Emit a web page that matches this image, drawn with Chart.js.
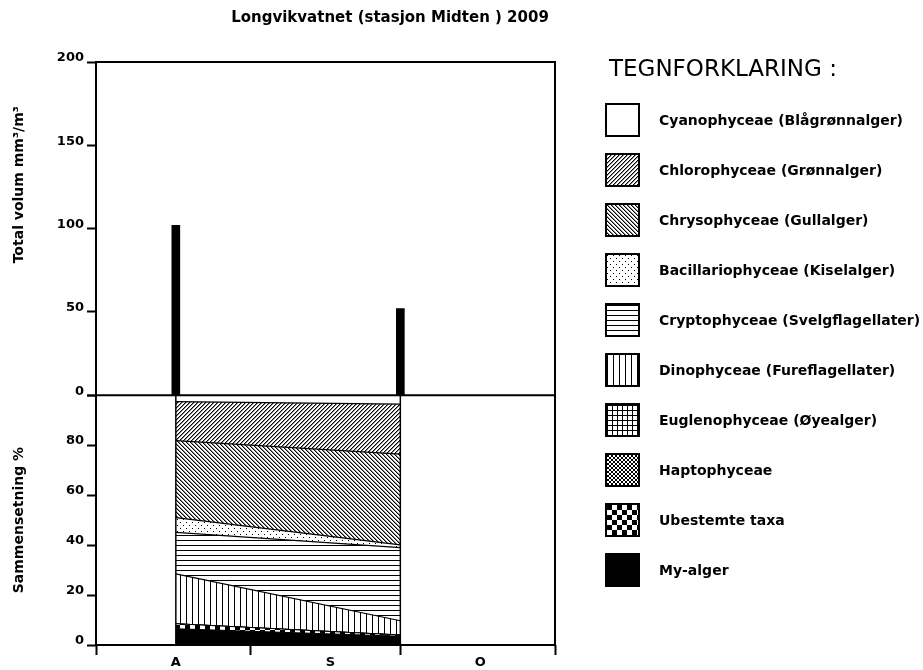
<!DOCTYPE html>
<html>
<head>
<meta charset="utf-8">
<script src="https://cdn.jsdelivr.net/npm/chart.js@4.4.1/dist/chart.umd.min.js"></script>
<style>
  html, body { margin: 0; padding: 0; background: #fff; }
  #wrap { position: relative; width: 923px; height: 670px; font-family: "DejaVu Sans", sans-serif; color: #000; }
  #chart { position: absolute; left: 0; top: 0; }
  #title { position: absolute; left: 0; top: 9px; width: 780px; text-align: center; font-weight: bold; font-size: 15px; line-height: 17px; }
  #legend-head { position: absolute; left: 609px; top: 55px; font-size: 23px; line-height: 27px; }
  #legend { position: absolute; left: 605px; top: 103px; }
  .row { display: flex; align-items: center; height: 34px; margin-bottom: 16px; }
  .row canvas { border: 2px solid #000; display: block; }
  .row span { margin-left: 19px; font-weight: bold; font-size: 14px; white-space: nowrap; }
</style>
</head>
<body>
<div id="wrap">
  <canvas id="chart" width="923" height="670"></canvas>
  <div id="title">Longvikvatnet (stasjon Midten ) 2009</div>
  <div id="legend-head">TEGNFORKLARING :</div>
  <div id="legend"></div>
</div>
<script>
// sampling dates, counted in days after 1 August
const sampleDays = [16, 61];
const totalVolume = [102, 52];

// composition in % (bottom of the stack first)
const myAlger = [6.5, 3.5];
const ubestemte = [2.0, 0.5];
const haptophyceae = [0, 0];
const euglenophyceae = [0, 0];
const dinophyceae = [20.0, 5.7];
const cryptophyceae = [16.6, 29.3];
const bacillariophyceae = [5.9, 1.1];
const chrysophyceae = [30.8, 36.3];
const chlorophyceae = [15.6, 20.0];
const cyanophyceae = [2.6, 3.6];

const monthStarts = [0, 31, 61, 92];
const monthMids = [16, 47, 77];
const monthLabels = ['A', 'S', 'O'];
const volumeTicks = [0, 50, 100, 150, 200];
const percentTicks = [0, 20, 40, 60, 80, 100];

const legendLabels = [
  'Cyanophyceae (Blågrønnalger)',
  'Chlorophyceae (Grønnalger)',
  'Chrysophyceae (Gullalger)',
  'Bacillariophyceae (Kiselalger)',
  'Cryptophyceae (Svelgflagellater)',
  'Dinophyceae (Fureflagellater)',
  'Euglenophyceae (Øyealger)',
  'Haptophyceae',
  'Ubestemte taxa',
  'My-alger'
];

// --- fill patterns ---
function tile(w, h, draw) {
  const c = document.createElement('canvas');
  c.width = w; c.height = h;
  const g = c.getContext('2d');
  g.fillStyle = '#fff';
  g.fillRect(0, 0, w, h);
  g.fillStyle = '#000';
  draw(g, w, h);
  return c;
}

// diagonal hatch, dir 1 = "/", dir -1 = "\"
function hatch(g, n, dir) {
  for (let i = 0; i < n; i++) {
    const y = dir > 0 ? n - 1 - i : i;
    g.fillStyle = '#000';
    g.fillRect(i, y, 1, 1);
    g.fillStyle = '#8a8a8a';
    g.fillRect((i + 1) % n, y, 1, 1);
  }
}

const tiles = {
  cyano: tile(4, 4, () => {}),
  chloro: tile(4, 4, g => hatch(g, 4, 1)),
  chryso: tile(4, 4, g => hatch(g, 4, -1)),
  bacill: tile(6, 6, g => { g.fillRect(0, 0, 1, 1); g.fillRect(3, 3, 1, 1); }),
  crypto: tile(4, 5, g => { g.fillRect(0, 0, 4, 1); }),
  dino: tile(6, 4, g => { g.fillRect(0, 0, 1, 4); }),
  eugleno: tile(5, 5, g => { g.fillRect(0, 0, 5, 1); g.fillRect(0, 0, 1, 5); }),
  hapto: tile(4, 4, g => { g.fillRect(0, 0, 2, 2); g.fillRect(2, 2, 2, 2); }),
  ubest: tile(10, 10, g => { g.fillRect(0, 0, 5, 5); g.fillRect(5, 5, 5, 5); }),
  my: tile(4, 4, (g, w, h) => { g.fillRect(0, 0, w, h); })
};

function pat(t) {
  return t.getContext('2d').createPattern(t, 'repeat');
}

const legendTiles = [tiles.cyano, tiles.chloro, tiles.chryso, tiles.bacill, tiles.crypto,
  tiles.dino, tiles.eugleno, tiles.hapto, tiles.ubest, tiles.my];

// HTML legend
const legendEl = document.getElementById('legend');
legendLabels.forEach((label, i) => {
  const row = document.createElement('div');
  row.className = 'row';
  const box = document.createElement('canvas');
  box.width = 31; box.height = 30;
  const bctx = box.getContext('2d');
  bctx.fillStyle = bctx.createPattern(legendTiles[i], 'repeat');
  bctx.fillRect(0, 0, 31, 30);
  const span = document.createElement('span');
  span.textContent = label;
  row.appendChild(box);
  row.appendChild(span);
  legendEl.appendChild(row);
});

function series(values) {
  return sampleDays.map((d, i) => ({ x: d, y: values[i] }));
}

function areaSet(label, values, fillStyle, fill) {
  return {
    label: label,
    data: series(values),
    yAxisID: 'yBottom',
    stack: 'comp',
    backgroundColor: fillStyle,
    borderColor: '#000',
    borderWidth: 1.2,
    pointRadius: 0,
    tension: 0,
    fill: fill
  };
}

const tickFont = { family: '"DejaVu Sans", sans-serif', size: 13, weight: 'bold' };
const titleFont = { family: '"DejaVu Sans", sans-serif', size: 14, weight: 'bold' };

const framePlugin = {
  id: 'frame',
  afterDatasetsDraw(chart) {
    const { ctx, chartArea: a, scales } = chart;
    const x = scales.x, yTop = scales.yTop, yBottom = scales.yBottom;
    ctx.save();
    ctx.strokeStyle = '#000';
    // left and right edge of the composition area
    ctx.lineWidth = 1.5;
    [sampleDays[0], sampleDays[sampleDays.length - 1]].forEach(d => {
      const px = x.getPixelForValue(d);
      ctx.beginPath();
      ctx.moveTo(px, yBottom.getPixelForValue(0));
      ctx.lineTo(px, yBottom.getPixelForValue(100));
      ctx.stroke();
    });
    ctx.lineWidth = 2;
    ctx.strokeRect(a.left, a.top, a.right - a.left, a.bottom - a.top);
    const y0 = yTop.getPixelForValue(0);
    ctx.beginPath();
    ctx.moveTo(a.left, y0);
    ctx.lineTo(a.right, y0);
    ctx.stroke();
    ctx.restore();
  }
};

new Chart(document.getElementById('chart'), {
  type: 'line',
  data: {
    datasets: [
      areaSet('My-alger', myAlger, '#000', 'origin'),
      areaSet('Ubestemte taxa', ubestemte, pat(tiles.ubest), '-1'),
      areaSet('Haptophyceae', haptophyceae, pat(tiles.hapto), '-1'),
      areaSet('Euglenophyceae', euglenophyceae, pat(tiles.eugleno), '-1'),
      areaSet('Dinophyceae', dinophyceae, pat(tiles.dino), '-1'),
      areaSet('Cryptophyceae', cryptophyceae, pat(tiles.crypto), '-1'),
      areaSet('Bacillariophyceae', bacillariophyceae, pat(tiles.bacill), '-1'),
      areaSet('Chrysophyceae', chrysophyceae, pat(tiles.chryso), '-1'),
      areaSet('Chlorophyceae', chlorophyceae, pat(tiles.chloro), '-1'),
      areaSet('Cyanophyceae', cyanophyceae, '#fff', '-1'),
      {
        type: 'bar',
        label: 'Total volum',
        data: series(totalVolume),
        yAxisID: 'yTop',
        backgroundColor: '#000',
        barThickness: 8
      }
    ]
  },
  options: {
    responsive: false,
    animation: false,
    devicePixelRatio: 1,
    layout: { padding: { top: 62, right: 368, bottom: 0, left: 0 } },
    plugins: {
      legend: { display: false },
      tooltip: { enabled: false }
    },
    scales: {
      x: {
        type: 'linear',
        min: 0,
        max: 92,
        offset: false,
        afterBuildTicks: s => { s.ticks = [...monthStarts, ...monthMids].sort((a, b) => a - b).map(v => ({ value: v })); },
        afterFit: s => { s.height = 25; },
        border: { display: false },
        grid: {
          offset: false,
          drawOnChartArea: false,
          tickLength: 10,
          tickWidth: 2,
          tickColor: ctx => (ctx.tick && monthStarts.includes(ctx.tick.value)) ? '#000' : 'rgba(0,0,0,0)'
        },
        ticks: {
          autoSkip: false,
          maxRotation: 0,
          padding: 0,
          color: '#000',
          font: tickFont,
          callback: v => { const i = monthMids.indexOf(v); return i >= 0 ? monthLabels[i] : ''; }
        }
      },
      yTop: {
        type: 'linear',
        position: 'left',
        stack: 'y',
        stackWeight: 4,
        weight: 1,
        min: 0,
        max: 200,
        afterBuildTicks: s => { s.ticks = volumeTicks.map(v => ({ value: v })); },
        afterFit: s => { s.width = 96; },
        border: { display: false },
        grid: { drawOnChartArea: false, tickLength: 9, tickWidth: 2, tickColor: '#000' },
        ticks: { color: '#000', font: tickFont, padding: 3, labelOffset: -4 },
        title: {
          display: true,
          text: ' '.repeat(18) + 'Total volum mm³/m³',
          color: '#000',
          font: titleFont,
          padding: { top: 11, bottom: 0 }
        }
      },
      yBottom: {
        type: 'linear',
        position: 'left',
        stack: 'y',
        stackWeight: 3,
        weight: 0,
        stacked: true,
        min: 0,
        max: 100,
        afterBuildTicks: s => { s.ticks = percentTicks.map(v => ({ value: v })); },
        afterFit: s => { s.width = 96; },
        border: { display: false },
        grid: { drawOnChartArea: false, tickLength: 9, tickWidth: 2, tickColor: '#000' },
        ticks: {
          color: '#000',
          font: tickFont,
          padding: 3,
          labelOffset: -4,
          callback: v => v === 100 ? '' : v
        },
        title: {
          display: true,
          text: 'Sammensetning %',
          color: '#000',
          font: titleFont,
          padding: { top: 11, bottom: 0 }
        }
      }
    }
  },
  plugins: [framePlugin]
});
</script>
</body>
</html>
